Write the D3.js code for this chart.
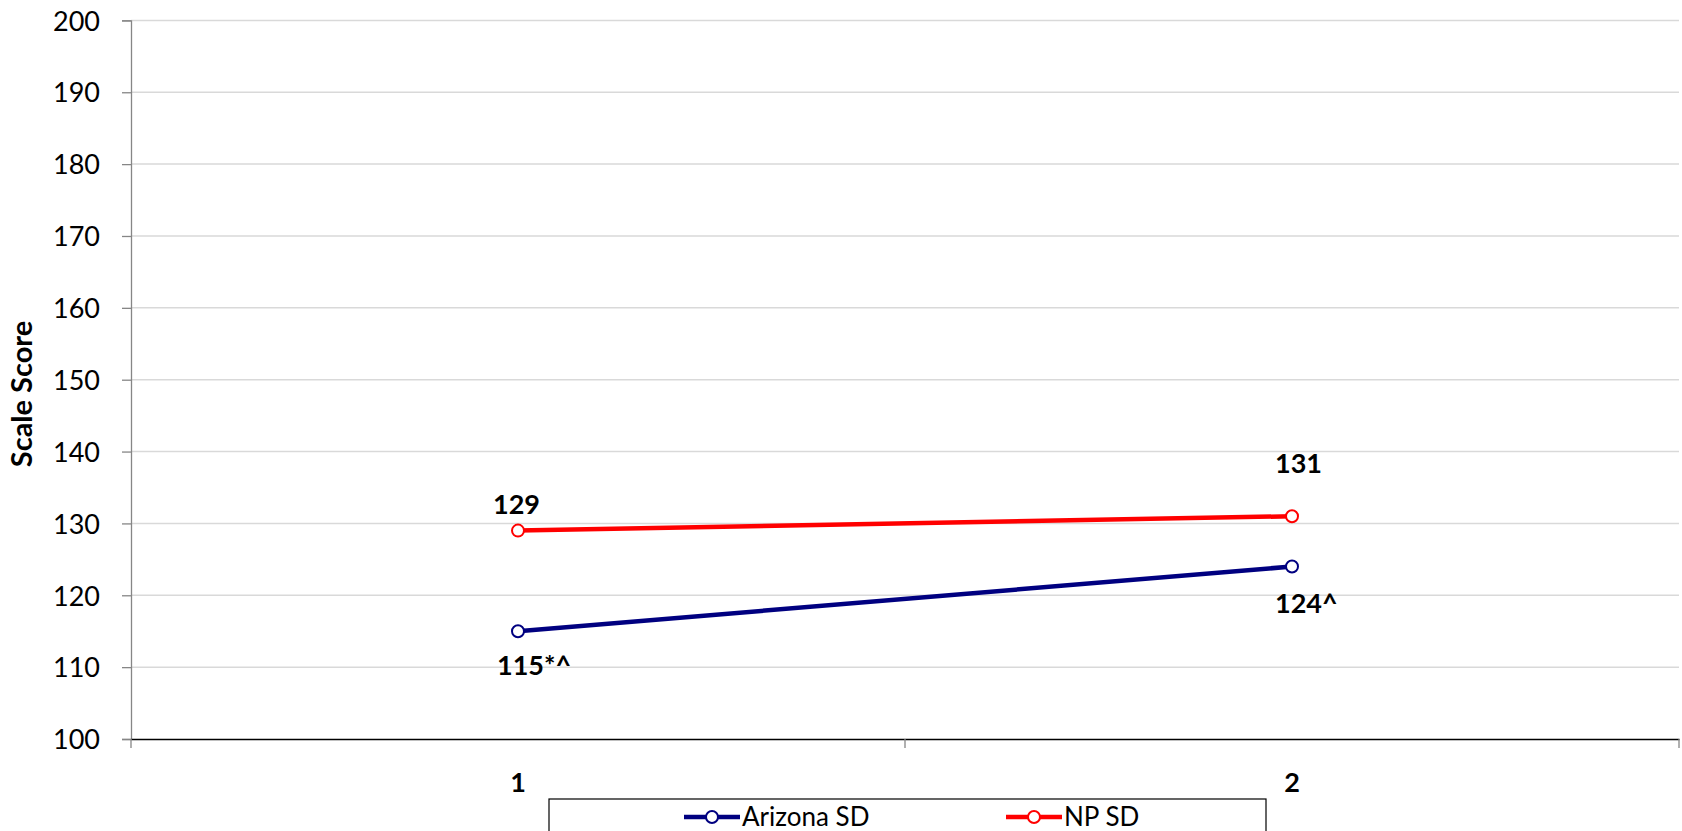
<!DOCTYPE html>
<html>
<head>
<meta charset="utf-8">
<script src="https://cdn.jsdelivr.net/npm/d3@7"></script>
<style>
  html, body { margin: 0; padding: 0; background: #fff; overflow: hidden; }
  svg { display: block; font-family: Lato, "Open Sans", sans-serif; }
</style>
</head>
<body>
<svg id="chart" width="1682" height="831"></svg>
<script>
// Test administrations on the x axis
const categories = ["1", "2"];
// Mean scale scores per group
const arizonaSD = [115, 124];
const npSD = [129, 131];
// Printed value labels (with significance markers)
const arizonaLabels = ["115*^", "124^"];
const npLabels = ["129", "131"];
// Y axis ticks
const yTicks = [100, 110, 120, 130, 140, 150, 160, 170, 180, 190, 200];
const seriesNames = ["Arizona SD", "NP SD"];

const svg = d3.select("#chart");
const plot = { left: 131, right: 1679, top: 20.4, bottom: 739 };

const x = d3.scaleBand().domain(categories).range([plot.left, plot.right]).padding(0);
const cx = c => x(c) + x.bandwidth() / 2;
const y = d3.scaleLinear().domain([100, 200]).range([plot.bottom, plot.top]);

// horizontal gridlines
svg.append("g")
  .selectAll("line")
  .data(yTicks.filter(t => t > 100))
  .join("line")
  .attr("x1", plot.left).attr("x2", plot.right)
  .attr("y1", d => y(d)).attr("y2", d => y(d))
  .attr("stroke", "#d9d9d9").attr("stroke-width", 1.5);

// y axis
const yAxis = svg.append("g")
  .attr("transform", `translate(${plot.left},0)`)
  .call(d3.axisLeft(y).tickValues(yTicks).tickSize(9).tickPadding(22).tickFormat(d3.format("d")));
yAxis.select(".domain").attr("stroke", "#868686").attr("stroke-width", 1.3);
yAxis.selectAll(".tick line").attr("stroke", "#868686").attr("stroke-width", 1.3);
yAxis.selectAll(".tick text")
  .attr("font-size", 27).attr("fill", "#000").attr("font-family", "Lato").attr("dy", "0.36em");

// x axis
const xAxis = svg.append("g")
  .attr("transform", `translate(0,${plot.bottom})`)
  .call(d3.axisBottom(x).tickSize(0).tickPadding(34));
xAxis.select(".domain").attr("stroke", "#000").attr("stroke-width", 1.3);
xAxis.selectAll(".tick text")
  .attr("font-size", 27).attr("font-weight", "bold").attr("fill", "#000").attr("font-family", "Lato");
// category boundary ticks
const bounds = [plot.left, x(categories[1]), plot.right];
svg.append("g").selectAll("line").data(bounds).join("line")
  .attr("x1", d => d).attr("x2", d => d)
  .attr("y1", plot.bottom).attr("y2", plot.bottom + 9)
  .attr("stroke", "#868686").attr("stroke-width", 1.3);

// y axis title
svg.append("text")
  .attr("transform", `translate(32,394) rotate(-90)`)
  .attr("text-anchor", "middle")
  .attr("font-size", 29).attr("font-weight", "bold")
  .text("Scale Score");

const series = [
  { name: seriesNames[0], values: arizonaSD, labels: arizonaLabels, color: "#000080",
    labelPos: [{ dx: -21, dy: 44 }, { dx: -17, dy: 46 }] },
  { name: seriesNames[1], values: npSD, labels: npLabels, color: "#ff0000",
    labelPos: [{ dx: -25, dy: -17 }, { dx: -17, dy: -43 }] }
];

const line = d3.line().x((d, i) => cx(categories[i])).y(d => y(d));

series.forEach(s => {
  svg.append("path")
    .datum(s.values)
    .attr("d", line)
    .attr("fill", "none")
    .attr("stroke", s.color)
    .attr("stroke-width", 4.5);
  svg.append("g").selectAll("circle")
    .data(s.values).join("circle")
    .attr("cx", (d, i) => cx(categories[i]))
    .attr("cy", d => y(d))
    .attr("r", 6)
    .attr("fill", "#fff")
    .attr("stroke", s.color)
    .attr("stroke-width", 2);
  svg.append("g").selectAll("text")
    .data(s.values).join("text")
    .attr("x", (d, i) => cx(categories[i]) + s.labelPos[i].dx)
    .attr("y", (d, i) => y(d) + s.labelPos[i].dy)
    .attr("font-size", 27).attr("font-weight", "bold")
    .text((d, i) => s.labels[i]);
});

// legend
const legend = svg.append("g");
legend.append("rect")
  .attr("x", 549).attr("y", 799).attr("width", 717).attr("height", 60)
  .attr("fill", "#fff").attr("stroke", "#000").attr("stroke-width", 1.2);
const legendX = [684, 1006];
series.forEach((s, i) => {
  const g = legend.append("g").attr("transform", `translate(${legendX[i]},817)`);
  g.append("line").attr("x1", 0).attr("x2", 56).attr("y1", 0).attr("y2", 0)
    .attr("stroke", s.color).attr("stroke-width", 4.5);
  g.append("circle").attr("cx", 28).attr("cy", 0).attr("r", 6)
    .attr("fill", "#fff").attr("stroke", s.color).attr("stroke-width", 2);
  g.append("text").attr("x", 58).attr("y", 0).attr("dy", "0.36em")
    .attr("font-size", 26).text(s.name);
});
</script>
</body>
</html>
